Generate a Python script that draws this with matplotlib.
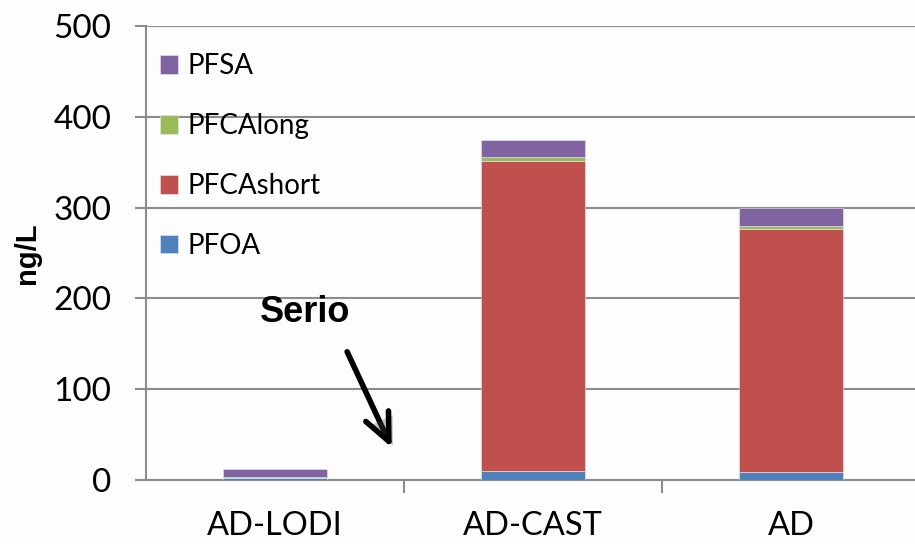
import numpy as np
import matplotlib
matplotlib.use("Agg")
import matplotlib.pyplot as plt
import matplotlib.patheffects as pe

sites = ["AD-LODI", "AD-CAST", "AD"]
pfoa = [2, 9.5, 8.5]
pfca_short = [0.5, 342, 268]
pfca_long = [1, 4, 3.5]
pfsa = [9, 18.5, 20]

series = [("PFOA", pfoa, "#4F81BD"),
          ("PFCAshort", pfca_short, "#C0504D"),
          ("PFCAlong", pfca_long, "#9BBB59"),
          ("PFSA", pfsa, "#8064A2")]

plt.rcParams['font.family'] = ['Lato', 'DejaVu Sans']

fig = plt.figure(figsize=(9.15, 5.44), dpi=100)
fig.patch.set_facecolor("#fdfdfd")
ax = fig.add_axes([146/915, 64/544, 774/915, 454/544])
ax.set_facecolor("none")

x = np.arange(len(sites))
bottom = np.zeros(len(sites))
handles = []
for name, vals, col in series:
    b = ax.bar(x, vals, 0.4, bottom=bottom, color=col, label=name,
               edgecolor="#e8e8f0", linewidth=0.4, zorder=3)
    handles.append(b)
    bottom += np.array(vals)

ax.set_xlim(-0.5, 2.5)
ax.set_ylim(0, 500)
ax.set_yticks(range(0, 501, 100))
ax.yaxis.grid(True, color="#8c8c8c", linewidth=1.5, zorder=0)
ax.set_axisbelow(True)

ax.set_xticks(x)
ax.set_xticklabels(sites, fontsize=23.5)
ax.set_xticks([0.5, 1.5], minor=True)
ax.tick_params(axis="x", which="major", length=0, pad=22)
ax.tick_params(axis="x", which="minor", length=9, width=1.5, color="#8c8c8c", direction="out")
ax.tick_params(axis="y", labelsize=24, length=8, width=1.5, color="#8c8c8c", pad=17)

for s in ["top", "right"]:
    ax.spines[s].set_visible(False)
for s in ["left", "bottom"]:
    ax.spines[s].set_color("#8c8c8c")
    ax.spines[s].set_linewidth(1.5)

ax.set_ylabel("ng/L", fontsize=21, fontweight="bold", family="Liberation Sans", labelpad=9)

leg = ax.legend(handles[::-1], [s[0] for s in series][::-1], loc="upper left",
                bbox_to_anchor=(0.018, 0.94), frameon=False, fontsize=20,
                handlelength=0.65, handleheight=0.65, handletextpad=0.36,
                labelspacing=1.22, borderaxespad=0, borderpad=0)

ax.text(0.116, 185, "Serio", fontsize=26, fontweight="bold", family="Liberation Sans",
        ha="center", va="center")
ax.annotate("", xy=(0.457, 33), xytext=(0.275, 144),
            arrowprops=dict(arrowstyle="->,head_length=2.0,head_width=0.9", color="black", lw=4,
                            path_effects=[pe.SimplePatchShadow(offset=(3, -3), alpha=0.3), pe.Normal()]))

fig.savefig("out.png", dpi=100, facecolor=fig.get_facecolor())
